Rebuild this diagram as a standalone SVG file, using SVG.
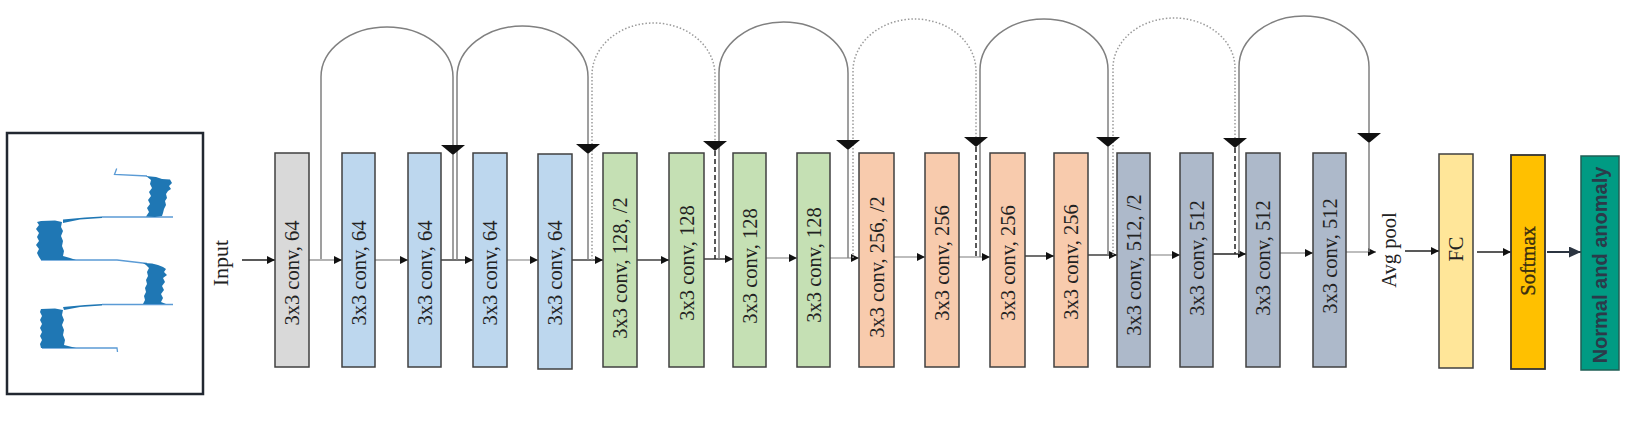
<svg xmlns="http://www.w3.org/2000/svg" xmlns:xlink="http://www.w3.org/1999/xlink" width="1628" height="432" viewBox="0 0 1628 432">
<style>
.b{stroke:#404040;stroke-width:1.5}
.gy{fill:#d9d9d9}.bl{fill:#bdd7ee}.gr{fill:#c5e0b4}.or{fill:#f8cbad}.sl{fill:#adb9ca}
.fc{fill:#ffe699}.sm{fill:#ffc000}.out{fill:#009b83;stroke:#1f5f55;stroke-width:1.5}
.t{font-family:"Liberation Serif","Times New Roman",serif;font-size:20.5px;fill:#222;text-anchor:middle}
.nt{font-family:"Liberation Sans",Arial,sans-serif;font-size:20px;font-weight:bold;fill:#2b3a4a;text-anchor:middle}
.m{fill:none;stroke-width:1.3}
.dk{stroke:#222}.lt{stroke:#9a9a9a}
.sk{fill:none;stroke:#808080;stroke-width:1.5}
.dot{fill:none;stroke:#9a9a9a;stroke-width:1.5;stroke-dasharray:1.5 2}
.dash{fill:none;stroke:#222;stroke-width:1.5;stroke-dasharray:5 3}
.wl{fill:none;stroke:#5b9bd5;stroke-width:1.3}
.wf{fill:#1f77b4}
</style>
<defs>
<marker id="a" markerUnits="userSpaceOnUse" markerWidth="9" markerHeight="9" refX="8" refY="4" orient="auto"><path d="M0,0 L8,4 L0,8 z" fill="#111"/></marker>
<marker id="a2" markerUnits="userSpaceOnUse" markerWidth="14" markerHeight="12" refX="12" refY="5.5" orient="auto"><path d="M0,0 L12,5.5 L0,11 z" fill="#2b3440"/></marker>
<path id="ah" d="M-12,-10 L12,-10 L0,0 z" fill="#111"/>
</defs>

<g id="signal">
<rect x="7" y="133" width="196" height="261" fill="#fff" stroke="#222831" stroke-width="2.5"/>
<path class="wl" d="M116.7,168.5 L114.5,174.5 L147,176 M102,217 H173 M41,260 H117 L147,263.5 M102,304.5 H173 M42,348 H117 L117.5,352"/>
<path class="wf" d="M146,176 L156,177 L162,179 L170,179.5 L172,183 L169,186 L171,189 L168,191 L166,194 L167,198 L165,201 L166,205 L164,209 L163,213 L162,216 L155,217 L146,216.5 L149,212 L147,208 L150,204 L148,200 L151,196 L149,192 L152,188 L150,184 L151,180 Z"/>
<path class="wf" d="M63,219.5 L85,217.5 L102,216.5 L102,218 L80,219.5 L63,223 Z"/>
<path class="wf" d="M41,221 L55,220.5 L62,222 L61,227 L63,231 L61,236 L63,241 L62,246 L64,251 L63,256 L70,258 L76,260 L41,260 L39,257 L37,253 L39,249 L36,245 L39,241 L37,237 L39,233 L36,229 L39,225 L37,222 Z"/>
<path class="wf" d="M143,263 L152,263.5 L158,265 L163,267 L166,269 L164,272 L167,275 L163,278 L165,282 L162,286 L164,290 L161,294 L163,298 L161,302 L166,304 L143,304 L145,300 L144,296 L146,292 L145,288 L147,284 L146,280 L148,276 L147,272 L149,268 L146,265 Z"/>
<path class="wf" d="M63,307 L85,305 L102,304 L102,305.5 L80,307 L64,310 Z"/>
<path class="wf" d="M41,309 L55,308.5 L63,310 L62,315 L64,320 L62,325 L64,330 L63,335 L65,340 L64,345 L72,347 L76,348 L41,348 L40,344 L42,340 L40,336 L42,332 L40,328 L42,324 L40,320 L42,316 L40,312 Z"/>
</g>

<g id="connectors">
<line class="m dk" x1="242" y1="260" x2="275" y2="260" marker-end="url(#a)"/>
<line class="m lt" x1="309" y1="260" x2="342" y2="260" marker-end="url(#a)"/>
<line class="m lt" x1="375" y1="260" x2="408" y2="260" marker-end="url(#a)"/>
<line class="m dk" x1="441" y1="260" x2="473" y2="260" marker-end="url(#a)"/>
<line class="m lt" x1="507" y1="260" x2="538" y2="260" marker-end="url(#a)"/>
<line class="m dk" x1="572" y1="260" x2="603" y2="260" marker-end="url(#a)"/>
<line class="m dk" x1="637" y1="260" x2="669" y2="260" marker-end="url(#a)"/>
<line class="m dk" x1="704" y1="259" x2="733" y2="259" marker-end="url(#a)"/>
<line class="m lt" x1="766" y1="258" x2="797" y2="258" marker-end="url(#a)"/>
<line class="m lt" x1="830" y1="258" x2="859" y2="258" marker-end="url(#a)"/>
<line class="m lt" x1="894" y1="257" x2="925" y2="257" marker-end="url(#a)"/>
<line class="m lt" x1="959" y1="257" x2="990" y2="257" marker-end="url(#a)"/>
<line class="m dk" x1="1025" y1="256" x2="1054" y2="256" marker-end="url(#a)"/>
<line class="m dk" x1="1088" y1="255" x2="1117" y2="255" marker-end="url(#a)"/>
<line class="m lt" x1="1150" y1="255" x2="1180" y2="255" marker-end="url(#a)"/>
<line class="m dk" x1="1213" y1="254" x2="1246" y2="254" marker-end="url(#a)"/>
<line class="m lt" x1="1280" y1="253" x2="1313" y2="253" marker-end="url(#a)"/>
<line class="m lt" x1="1346" y1="252" x2="1376" y2="252" marker-end="url(#a)"/>
<line class="m dk" x1="1405" y1="251" x2="1439" y2="251" marker-end="url(#a)"/>
<line class="m dk" x1="1477" y1="252" x2="1511" y2="252" marker-end="url(#a)"/>
<line x1="1547" y1="252" x2="1581" y2="252" stroke="#2b3440" stroke-width="2.2" marker-end="url(#a2)"/>

<path class="sk" d="M321,259 V77 A66,50 0 0 1 453,77 V145 M453,155 V259"/>
<path class="sk" d="M457,260 V77 A65.5,51 0 0 1 588,77 V144 M588,154 V260"/>
<path class="dot" d="M592,260 V75 A61.5,52 0 0 1 715,75 V141"/>
<path class="dash" d="M715,151 V259"/>
<path class="sk" d="M719,259 V73 A64.5,51 0 0 1 848,73 V140 M848,150 V258"/>
<path class="dot" d="M853,258 V71 A61.5,52 0 0 1 976,71 V137"/>
<path class="dash" d="M976,147 V257"/>
<path class="sk" d="M980,257 V70 A64,51 0 0 1 1108,70 V137 M1108,147 V255"/>
<path class="dot" d="M1113,255 V68 A61,50 0 0 1 1235,68 V138"/>
<path class="dash" d="M1235,148 V254"/>
<path class="sk" d="M1239,254 V67 A65,51 0 0 1 1369,67 V133 M1369,143 V252"/>
<use xlink:href="#ah" x="453" y="155"/>
<use xlink:href="#ah" x="588" y="154"/>
<use xlink:href="#ah" x="715" y="151"/>
<use xlink:href="#ah" x="848" y="150"/>
<use xlink:href="#ah" x="976" y="147"/>
<use xlink:href="#ah" x="1108" y="147"/>
<use xlink:href="#ah" x="1235" y="148"/>
<use xlink:href="#ah" x="1369" y="143"/>
</g>

<g id="input"><text class="t" style="font-size:22px" transform="translate(220,263) rotate(-90)" dy="0.35em">Input</text></g>

<g id="conv1"><rect class="b gy" x="275" y="153" width="34" height="214"/><text class="t" transform="translate(292,273) rotate(-90)" dy="0.35em">3x3 conv, 64</text></g>
<g id="conv2"><rect class="b bl" x="342" y="153" width="33" height="214"/><text class="t" transform="translate(358.5,273) rotate(-90)" dy="0.35em">3x3 conv, 64</text></g>
<g id="conv3"><rect class="b bl" x="408" y="153" width="33" height="214"/><text class="t" transform="translate(424.5,273) rotate(-90)" dy="0.35em">3x3 conv, 64</text></g>
<g id="conv4"><rect class="b bl" x="473" y="153" width="34" height="214"/><text class="t" transform="translate(490,273) rotate(-90)" dy="0.35em">3x3 conv, 64</text></g>
<g id="conv5"><rect class="b bl" x="538" y="154" width="34" height="215"/><text class="t" transform="translate(555,273) rotate(-90)" dy="0.35em">3x3 conv, 64</text></g>
<g id="conv6"><rect class="b gr" x="603" y="153" width="34" height="214"/><text class="t" transform="translate(620,268) rotate(-90)" dy="0.35em">3x3 conv, 128, /2</text></g>
<g id="conv7"><rect class="b gr" x="669" y="153" width="35" height="214"/><text class="t" transform="translate(686.5,263) rotate(-90)" dy="0.35em">3x3 conv, 128</text></g>
<g id="conv8"><rect class="b gr" x="733" y="153" width="33" height="214"/><text class="t" transform="translate(749.5,266) rotate(-90)" dy="0.35em">3x3 conv, 128</text></g>
<g id="conv9"><rect class="b gr" x="797" y="153" width="33" height="214"/><text class="t" transform="translate(813.5,265) rotate(-90)" dy="0.35em">3x3 conv, 128</text></g>
<g id="conv10"><rect class="b or" x="859" y="153" width="35" height="214"/><text class="t" transform="translate(876.5,267) rotate(-90)" dy="0.35em">3x3 conv, 256, /2</text></g>
<g id="conv11"><rect class="b or" x="925" y="153" width="34" height="214"/><text class="t" transform="translate(942,263) rotate(-90)" dy="0.35em">3x3 conv, 256</text></g>
<g id="conv12"><rect class="b or" x="990" y="153" width="35" height="214"/><text class="t" transform="translate(1007.5,263) rotate(-90)" dy="0.35em">3x3 conv, 256</text></g>
<g id="conv13"><rect class="b or" x="1054" y="153" width="34" height="214"/><text class="t" transform="translate(1071,262) rotate(-90)" dy="0.35em">3x3 conv, 256</text></g>
<g id="conv14"><rect class="b sl" x="1117" y="153" width="33" height="214"/><text class="t" transform="translate(1133.5,265) rotate(-90)" dy="0.35em">3x3 conv, 512, /2</text></g>
<g id="conv15"><rect class="b sl" x="1180" y="153" width="33" height="214"/><text class="t" transform="translate(1196.5,258) rotate(-90)" dy="0.35em">3x3 conv, 512</text></g>
<g id="conv16"><rect class="b sl" x="1246" y="153" width="34" height="214"/><text class="t" transform="translate(1263,258) rotate(-90)" dy="0.35em">3x3 conv, 512</text></g>
<g id="conv17"><rect class="b sl" x="1313" y="153" width="33" height="214"/><text class="t" transform="translate(1329.5,256) rotate(-90)" dy="0.35em">3x3 conv, 512</text></g>

<g id="avgpool"><text class="t" transform="translate(1389,250) rotate(-90)" dy="0.35em">Avg pool</text></g>
<g id="fc"><rect class="b fc" x="1439" y="154" width="34" height="214"/><text class="t" transform="translate(1456,249) rotate(-90)" dy="0.35em">FC</text></g>
<g id="softmax"><rect class="sm" x="1511" y="155" width="34" height="214" stroke="#333" stroke-width="1.8"/><text class="t" style="fill:#3a2e10;stroke:#3a2e10;stroke-width:0.4" transform="translate(1528,261) rotate(-90)" dy="0.35em">Softmax</text></g>
<g id="output"><rect class="out" x="1581" y="156" width="38" height="214"/><text class="nt" transform="translate(1600,265) rotate(-90)" dy="0.36em">Normal and anomaly</text></g>
</svg>
